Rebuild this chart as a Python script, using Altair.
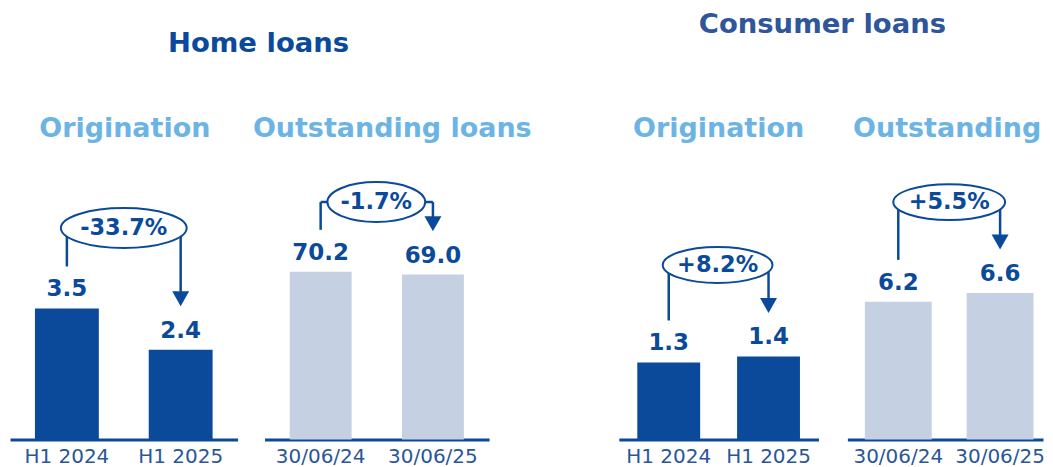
import altair as alt
import pandas as pd

# ---------------- data ----------------
section_titles = ["Home loans", "Consumer loans"]
panel_titles = ["Origination", "Outstanding loans", "Origination", "Outstanding"]
categories = [
    ["H1 2024", "H1 2025"],
    ["30/06/24", "30/06/25"],
    ["H1 2024", "H1 2025"],
    ["30/06/24", "30/06/25"],
]
values = [
    [3.5, 2.4],
    [70.2, 69.0],
    [1.3, 1.4],
    [6.2, 6.6],
]
changes = ["-33.7%", "-1.7%", "+8.2%", "+5.5%"]

# ---------------- style ----------------
DARK = "#0b4a9a"
LIGHT_BAR = "#c5d0e2"
SUB = "#6cb4e4"
LABEL = "#2a5699"
FONT = "DejaVu Sans"
LW = 2.5
H = 432

panel_style = [
    dict(width=241, rng=[0, 228], pi=0.45, po=0.225, align=0.5, ymax=11.5, bar=64, color=DARK,
         ex=114, ey=220, rx=63, ry=20, subx=115),
    dict(width=304, rng=[14, 239], pi=0.45, po=0.225, align=0.5, ymax=180.3, bar=62, color=LIGHT_BAR,
         ex=126, ey=194, rx=49, ry=20, subx=142),
    dict(width=279, rng=[65, 265], pi=0.45, po=0.225, align=0.5, ymax=7.26, bar=63, color=DARK,
         ex=164, ey=257, rx=55, ry=18, subx=165),
    dict(width=211, rng=[15, 211], pi=0.4, po=0.1608, align=0.622, ymax=19.4, bar=67, color=LIGHT_BAR,
         ex=117, ey=194, rx=56, ry=18, subx=115),
]
section_style = {
    0: dict(title=0, x=249, y=44, color="#0a4a9c"),
    2: dict(title=1, x=269, y=25, color="#2f559a"),
}
TRI = "M-1,-0.88L1,-0.88L0,0.88Z"


def ellipse_path(rx, ry):
    r = ry / rx
    return f"M-1,0A1,{r:.3f},0,1,1,1,0A1,{r:.3f},0,1,1,-1,0Z"


def panel(i):
    s = panel_style[i]
    cats = categories[i]
    df = pd.DataFrame({"cat": cats, "value": values[i]})
    ann = pd.DataFrame({"change": [changes[i]], "title": [panel_titles[i]]})

    x = alt.X(
        "cat:N",
        sort=cats,
        title=None,
        scale=alt.Scale(range=s["rng"], paddingInner=s["pi"], paddingOuter=s["po"], align=s["align"]),
        axis=alt.Axis(labelAngle=0, ticks=False, grid=False),
    )
    y = alt.Y("value:Q", scale=alt.Scale(domain=[0, s["ymax"]]), axis=None)
    base = alt.Chart(df)

    bars = base.mark_bar(size=s["bar"], color=s["color"]).encode(x=x, y=y)
    labels = base.mark_text(
        font=FONT, fontSize=23, fontWeight="bold", color=DARK, dy=-12, baseline="alphabetic"
    ).encode(x=x, y=y, text=alt.Text("value:Q", format=".1f"))

    left = base.transform_filter(alt.datum.cat == cats[0]).mark_rule(
        color=DARK, strokeWidth=LW, yOffset=-42
    ).encode(x=x, y=y, y2=alt.value(s["ey"]))
    horiz = base.mark_rule(color=DARK, strokeWidth=LW).encode(
        x=x, x2=alt.value(s["ex"]), y=alt.value(s["ey"])
    )
    right = base.transform_filter(alt.datum.cat == cats[1]).mark_rule(
        color=DARK, strokeWidth=LW, yOffset=-56
    ).encode(x=x, y=y, y2=alt.value(s["ey"]))
    arrow = base.transform_filter(alt.datum.cat == cats[1]).mark_point(
        shape=TRI, size=289, filled=True, color=DARK, opacity=1, yOffset=-51
    ).encode(x=x, y=y)

    ell = alt.Chart(ann).mark_point(
        shape=ellipse_path(s["rx"], s["ry"]),
        size=(2 * s["rx"]) ** 2,
        filled=True,
        fill="white",
        stroke=DARK,
        strokeWidth=2,
        opacity=1,
    ).encode(x=alt.value(s["ex"]), y=alt.value(s["ey"]))
    pct = alt.Chart(ann).mark_text(
        font=FONT, fontSize=22.5, fontWeight="bold", color=DARK, baseline="middle"
    ).encode(x=alt.value(s["ex"]), y=alt.value(s["ey"]), text="change:N")
    sub = alt.Chart(ann).mark_text(
        font=FONT, fontSize=27, fontWeight="bold", color=SUB, baseline="alphabetic"
    ).encode(x=alt.value(s["subx"]), y=alt.value(129), text="title:N")

    layers = [bars, labels, left, horiz, right, arrow, ell, pct, sub]
    if i in section_style:
        t = section_style[i]
        tdf = pd.DataFrame({"t": [section_titles[t["title"]]]})
        layers.append(
            alt.Chart(tdf).mark_text(
                font=FONT, fontSize=27.5, fontWeight="bold", color=t["color"], baseline="alphabetic"
            ).encode(x=alt.value(t["x"]), y=alt.value(t["y"]), text="t:N")
        )
    return alt.layer(*layers).properties(width=s["width"], height=H)


chart = (
    alt.hconcat(*[panel(i) for i in range(4)], spacing=0, bounds="flush")
    .properties(padding={"left": 2, "top": 0, "right": 0, "bottom": 0}, background="white")
    .configure_view(stroke=None)
    .configure_axisX(
        domainColor=DARK,
        domainWidth=3,
        labelFont=FONT,
        labelFontSize=20,
        labelColor=LABEL,
        labelPadding=7,
        ticks=False,
        grid=False,
    )
)

chart.save("out.html", embed_options={"renderer": "svg", "actions": False})
